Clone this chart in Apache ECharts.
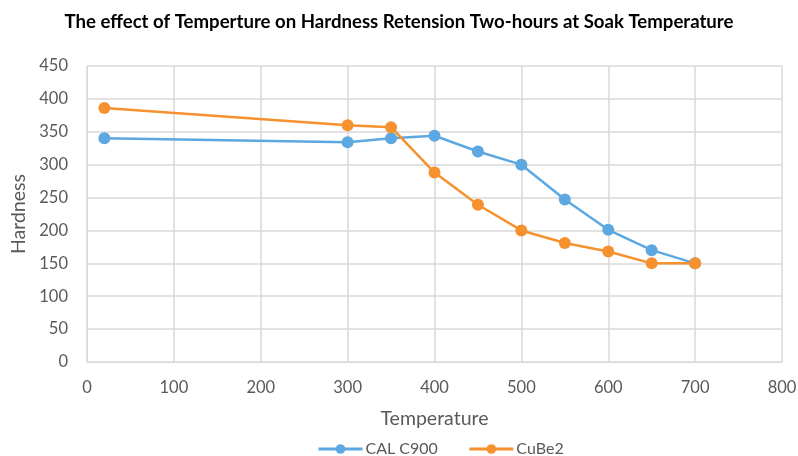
<!DOCTYPE html>
<html>
<head>
<meta charset="utf-8">
<script src="https://cdn.jsdelivr.net/npm/echarts@6/dist/echarts.min.js"></script>
<style>html,body{margin:0;padding:0;background:#fff;}#c{width:798px;height:456px;}</style>
</head>
<body>
<div id="c"></div>
<script>
var temperatures = [20, 300, 350, 400, 450, 500, 550, 600, 650, 700];
var calC900 = [340, 334, 340, 344, 320, 300, 247, 201, 170, 150];
var cuBe2 = [386, 360, 357, 288, 239, 200, 181, 168, 150, 150];
var seriesNames = ['CAL C900', 'CuBe2'];
var titleText = 'The effect of Temperture on Hardness Retension Two-hours at Soak Temperature';

function pairs(xs, ys) { return xs.map(function (x, i) { return [x, ys[i]]; }); }

var chart = echarts.init(document.getElementById('c'));
var txt = '#595959';
chart.setOption({
  animation: false,
  title: {
    text: titleText, left: 'center', top: 7,
    textStyle: { fontFamily: 'Lato', fontWeight: 'bold', fontSize: 18.6, color: '#000' }
  },
  legend: {
    data: seriesNames, top: 436, left: 312, itemWidth: 44, itemHeight: 12, itemGap: 30,
    lineStyle: { width: 3 },
    textStyle: { fontFamily: 'Lato', fontSize: 16, color: txt, padding: [0, 0, 0, -2] }
  },
  grid: { left: 87, right: 16, top: 66, bottom: 94, containLabel: false, outerBoundsMode: 'none' },
  xAxis: {
    type: 'value', min: 0, max: 800, interval: 100,
    name: 'Temperature', nameLocation: 'middle', nameGap: 47,
    nameTextStyle: { fontFamily: 'Lato', fontSize: 19.5, color: txt },
    axisLine: { show: true, lineStyle: { color: '#d9d9d9' } },
    axisTick: { show: false },
    axisLabel: { fontFamily: 'Lato', fontSize: 16.5, color: txt, margin: 17 },
    splitLine: { show: true, lineStyle: { color: '#d9d9d9', width: 1.5 } }
  },
  yAxis: {
    type: 'value', min: 0, max: 450, interval: 50,
    name: 'Hardness', nameLocation: 'middle', nameGap: 58,
    nameTextStyle: { fontFamily: 'Lato', fontSize: 19.5, color: txt },
    axisLine: { show: true, lineStyle: { color: '#d9d9d9' } },
    axisTick: { show: false },
    axisLabel: { fontFamily: 'Lato', fontSize: 16.5, color: txt, margin: 19 },
    splitLine: { show: true, lineStyle: { color: '#d9d9d9', width: 1.5 } }
  },
  series: [
    { name: seriesNames[0], type: 'line', data: pairs(temperatures, calC900),
      symbol: 'circle', symbolSize: 12,
      lineStyle: { color: '#5DA8E0', width: 2.5 }, itemStyle: { color: '#5DA8E0' } },
    { name: seriesNames[1], type: 'line', data: pairs(temperatures, cuBe2),
      symbol: 'circle', symbolSize: 12,
      lineStyle: { color: '#F5922F', width: 2.5 }, itemStyle: { color: '#F5922F' } }
  ]
});
</script>
</body>
</html>
